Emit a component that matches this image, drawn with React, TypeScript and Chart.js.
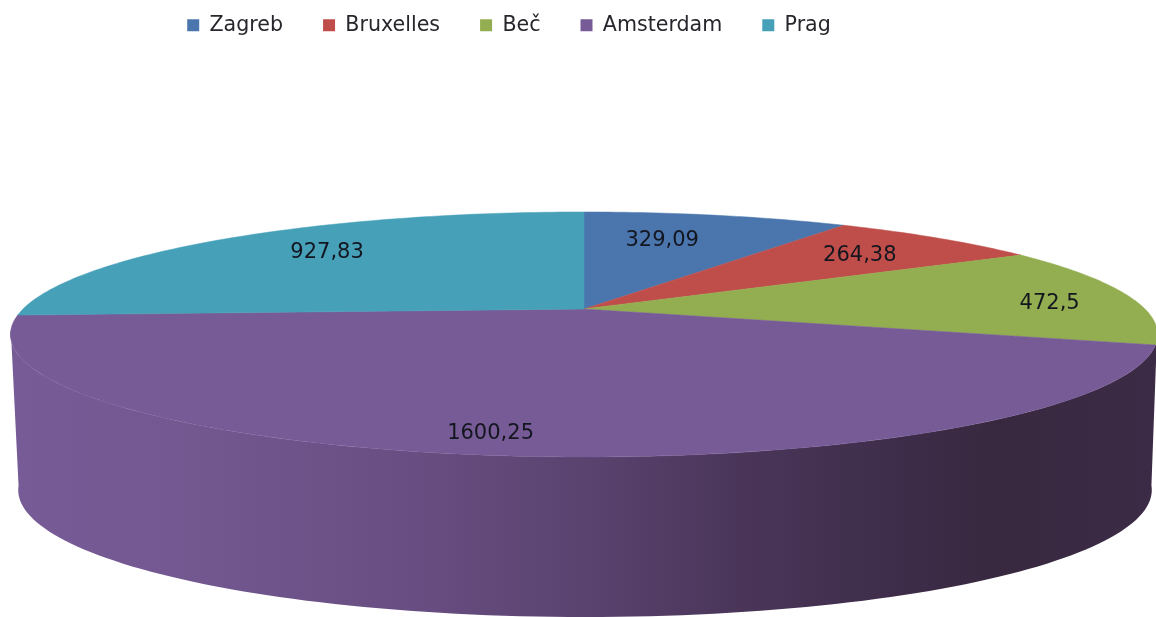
import React, { useEffect, useRef } from "react";
import { Chart, registerables } from "chart.js";

Chart.register(...registerables);

const cities = ["Zagreb", "Bruxelles", "Beč", "Amsterdam", "Prag"];
const amounts = [329.09, 264.38, 472.5, 1600.25, 927.83];
const amountLabels = ["329,09", "264,38", "472,5", "1600,25", "927,83"];
const sliceColors = ["#4a76ad", "#bf4e4a", "#93ae50", "#775b97", "#45a0b8"];

// label placement relative to its slice: radius fraction, angle shift in degrees
const labelRadius = [0.68, 0.74, 0.84, 0.88, 0.74];
const labelShift = [-3, 1, 3.5, 2, 3];

// perspective of the disc
const TOP = { cx: 584, cy: 309, kx: 561, ky: 117.2, p: 0.208 };
const BOTTOM = { cx: 585, cy: 463.6, kx: 554.4, ky: 121.5, p: 0.208 };

type View = typeof TOP;
const project = (view: View, a: number, r = 1) => {
  const u = r * Math.cos(a);
  const v = r * Math.sin(a);
  const d = 1 - view.p * v;
  return { x: view.cx + (view.kx * u) / d, y: view.cy + (view.ky * v) / d };
};

const wallStops: [number, string][] = [
  [0, "#775b97"],
  [0.17, "#72578f"],
  [0.34, "#694e83"],
  [0.5, "#5a436f"],
  [0.64, "#4a3559"],
  [0.77, "#3e2d4a"],
  [0.86, "#38283f"],
  [1, "#3c2b46"],
];

const perspectivePie = {
  id: "perspectivePie",
  beforeDatasetDraw(chart: any) {
    const ctx = chart.ctx as CanvasRenderingContext2D;
    const arcs = chart.getDatasetMeta(0).data;

    // side wall, lower half of the disc
    const startWall = (10 * Math.PI) / 180;
    const endWall = (170 * Math.PI) / 180;
    const gradient = ctx.createLinearGradient(15, 0, 1156, 0);
    wallStops.forEach(([o, c]) => gradient.addColorStop(o, c));
    ctx.save();
    ctx.beginPath();
    const steps = 120;
    for (let i = 0; i <= steps; i++) {
      const a = startWall + ((endWall - startWall) * i) / steps;
      const pt = project(TOP, a);
      i === 0 ? ctx.moveTo(pt.x, pt.y) : ctx.lineTo(pt.x, pt.y);
    }
    for (let i = steps; i >= 0; i--) {
      const a = startWall + ((endWall - startWall) * i) / steps;
      const pt = project(BOTTOM, a);
      ctx.lineTo(pt.x, pt.y);
    }
    ctx.closePath();
    ctx.fillStyle = gradient;
    ctx.fill();

    // top face, from the library's own arc angles
    arcs.forEach((arc: any, idx: number) => {
      const { startAngle, endAngle } = arc.getProps(["startAngle", "endAngle"], true);
      ctx.beginPath();
      ctx.moveTo(TOP.cx, TOP.cy);
      const n = Math.max(8, Math.ceil(((endAngle - startAngle) * 180) / Math.PI));
      for (let i = 0; i <= n; i++) {
        const pt = project(TOP, startAngle + ((endAngle - startAngle) * i) / n);
        ctx.lineTo(pt.x, pt.y);
      }
      ctx.closePath();
      ctx.fillStyle = sliceColors[idx];
      ctx.strokeStyle = sliceColors[idx];
      ctx.lineWidth = 0.5;
      ctx.fill();
      ctx.stroke();
    });
    ctx.restore();
    return false;
  },
  afterDatasetsDraw(chart: any) {
    const ctx = chart.ctx as CanvasRenderingContext2D;
    const arcs = chart.getDatasetMeta(0).data;
    ctx.save();
    ctx.font = "21px 'DejaVu Sans'";
    ctx.fillStyle = "#14161f";
    ctx.textAlign = "center";
    ctx.textBaseline = "middle";
    arcs.forEach((arc: any, idx: number) => {
      const { startAngle, endAngle } = arc.getProps(["startAngle", "endAngle"], true);
      const mid = (startAngle + endAngle) / 2 + (labelShift[idx] * Math.PI) / 180;
      const pt = project(TOP, mid, labelRadius[idx]);
      ctx.fillText(amountLabels[idx], pt.x, pt.y);
    });
    ctx.restore();
  },
};

export default function App() {
  const ref = useRef<HTMLCanvasElement | null>(null);
  useEffect(() => {
    const chart = new Chart(ref.current as HTMLCanvasElement, {
      type: "pie",
      data: {
        labels: cities,
        datasets: [{ data: amounts, backgroundColor: sliceColors, borderWidth: 0 }],
      },
      options: {
        animation: false,
        responsive: false,
        layout: { padding: { top: -25, right: 138 } },
        plugins: {
          tooltip: { enabled: false },
          legend: {
            position: "top",
            labels: {
              boxWidth: 12,
              boxHeight: 12,
              padding: 40,
              color: "#26262c",
              font: { family: "'DejaVu Sans'", size: 20.6 },
            },
          },
        },
      },
      plugins: [perspectivePie],
    } as any);
    return () => chart.destroy();
  }, []);
  return (
    <div style={{ position: "absolute", left: 0, top: 0, width: 1156, height: 617, background: "#fff" }}>
      <canvas ref={ref} width={1156} height={617} style={{ display: "block" }} />
    </div>
  );
}
